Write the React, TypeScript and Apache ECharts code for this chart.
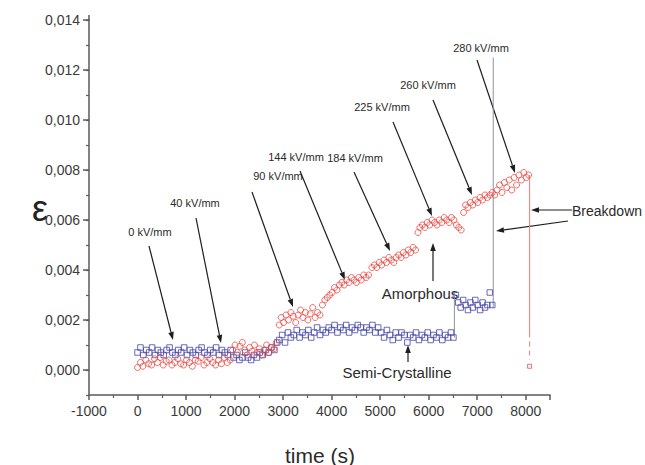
import React, { useEffect, useRef } from 'react';
import * as echarts from 'echarts';

// Amorphous sample (red circles): [time (s), strain]
const amorphous: [number, number][] = [
  [0, 0.0001], [60, 0.0003], [110, 0.00015], [170, 0.0004], [230, 0.00025], [290, 0.0002], [350, 0.00045], [410, 0.0003],
  [470, 0.0005], [530, 0.0002], [590, 0.00035], [650, 0.0004], [710, 0.0002], [770, 0.0003], [830, 0.00045], [890, 0.00025],
  [950, 0.0002], [1010, 0.0004], [1070, 0.0003], [1130, 0.00015], [1190, 0.0004], [1250, 0.00035], [1310, 0.0005], [1370, 0.0002],
  [1430, 0.0003], [1490, 0.00045], [1550, 0.0003], [1610, 0.0002], [1670, 0.0004], [1730, 0.00025], [1790, 0.0005], [1850, 0.0003],
  [1910, 0.0004],
  [1960, 0.0008], [2010, 0.001], [2060, 0.0007], [2110, 0.00095], [2160, 0.0011], [2210, 0.0008], [2260, 0.0006], [2310, 0.0009],
  [2360, 0.00075], [2410, 0.001], [2460, 0.0007], [2510, 0.00085], [2560, 0.0006], [2610, 0.0008], [2660, 0.001], [2710, 0.0007],
  [2760, 0.0009], [2810, 0.00085], [2860, 0.0011],
  [2920, 0.0018], [2960, 0.0021], [3010, 0.0019], [3060, 0.0022], [3110, 0.002], [3160, 0.0023], [3210, 0.00215], [3260, 0.0019],
  [3310, 0.0022], [3360, 0.0024], [3410, 0.0021], [3460, 0.0023], [3510, 0.002], [3560, 0.00225], [3610, 0.0025], [3660, 0.0021],
  [3710, 0.0023], [3760, 0.0022],
  [3810, 0.0026], [3860, 0.0028], [3910, 0.0029], [3960, 0.003], [4010, 0.0031], [4060, 0.0033], [4110, 0.0032], [4160, 0.0034],
  [4210, 0.0035], [4260, 0.0034], [4310, 0.0036], [4360, 0.0035], [4410, 0.0037], [4460, 0.0036], [4510, 0.0035], [4560, 0.0037],
  [4610, 0.0036], [4660, 0.0038], [4710, 0.0037], [4760, 0.0038],
  [4830, 0.0041], [4880, 0.0042], [4930, 0.0041], [4980, 0.0043], [5030, 0.0042], [5080, 0.0044], [5130, 0.0043], [5180, 0.0045],
  [5230, 0.0044], [5280, 0.0043], [5330, 0.0045], [5380, 0.0046], [5430, 0.0045], [5480, 0.0047], [5530, 0.0046], [5580, 0.0048],
  [5630, 0.0047], [5680, 0.0049], [5730, 0.0048],
  [5780, 0.0055], [5820, 0.0057], [5870, 0.0058], [5920, 0.0057], [5970, 0.0059], [6020, 0.0058], [6070, 0.006], [6120, 0.0059],
  [6170, 0.0058], [6220, 0.006], [6270, 0.0059], [6320, 0.0061], [6370, 0.006], [6420, 0.0059], [6470, 0.0061], [6520, 0.006],
  [6570, 0.0058], [6620, 0.0057], [6670, 0.0056],
  [6720, 0.0063], [6760, 0.0066], [6810, 0.0065], [6860, 0.0067], [6910, 0.0066], [6960, 0.0068], [7010, 0.0067], [7060, 0.0069],
  [7110, 0.0068], [7160, 0.007], [7210, 0.0069], [7260, 0.007], [7310, 0.0071], [7360, 0.007],
  [7410, 0.0072], [7460, 0.0074], [7510, 0.0071], [7560, 0.0075], [7610, 0.0073], [7660, 0.0076], [7710, 0.0072], [7760, 0.0077],
  [7810, 0.0074], [7860, 0.0078], [7910, 0.0076], [7960, 0.0079], [8010, 0.0077], [8060, 0.0078],
];

// Semi-crystalline sample (blue squares): [time (s), strain]
const semiCrystalline: [number, number][] = [
  [0, 0.0007], [60, 0.0009], [120, 0.0006], [180, 0.0008], [240, 0.0007], [300, 0.0009], [360, 0.0006], [420, 0.0008],
  [480, 0.0007], [540, 0.0006], [600, 0.0008], [660, 0.0009], [720, 0.0007], [780, 0.0006], [840, 0.0008], [900, 0.0007],
  [960, 0.0009], [1020, 0.0006], [1080, 0.0008], [1140, 0.0007], [1200, 0.0006], [1260, 0.0008], [1320, 0.0009], [1380, 0.0007],
  [1440, 0.0006], [1500, 0.0008], [1560, 0.0007], [1620, 0.0009], [1680, 0.0006], [1740, 0.0008], [1800, 0.0007], [1860, 0.0006],
  [1920, 0.0008],
  [1980, 0.0005], [2040, 0.0006], [2100, 0.0004], [2160, 0.0005], [2220, 0.0007], [2280, 0.0005], [2340, 0.0004], [2400, 0.0006],
  [2460, 0.0005], [2520, 0.0007], [2580, 0.0006], [2640, 0.0008], [2700, 0.0007], [2760, 0.0009], [2820, 0.0008], [2880, 0.0011],
  [2920, 0.0012], [2980, 0.0014], [3040, 0.0011], [3100, 0.0015], [3160, 0.0013], [3220, 0.0014], [3280, 0.0016], [3340, 0.0013],
  [3400, 0.0015], [3460, 0.0014], [3520, 0.0016], [3580, 0.0013], [3640, 0.0015], [3700, 0.0017], [3760, 0.0014], [3820, 0.0016],
  [3880, 0.0015], [3940, 0.0017],
  [4000, 0.0016], [4060, 0.0018], [4120, 0.0015], [4180, 0.0017], [4240, 0.0016], [4300, 0.0018], [4360, 0.0015], [4420, 0.0017],
  [4480, 0.0016], [4540, 0.0018], [4600, 0.0017], [4660, 0.0015], [4720, 0.0017], [4780, 0.0016], [4840, 0.0018], [4900, 0.0015],
  [4960, 0.0017],
  [5020, 0.0015], [5080, 0.0013], [5140, 0.0016], [5200, 0.0014], [5260, 0.0012], [5320, 0.0015], [5380, 0.0013], [5440, 0.0015],
  [5500, 0.0014], [5560, 0.0011], [5620, 0.0014], [5680, 0.0013], [5740, 0.0015], [5800, 0.0012], [5860, 0.0014], [5920, 0.0013],
  [5980, 0.0015], [6040, 0.0012], [6100, 0.0014], [6160, 0.0013], [6220, 0.0015], [6280, 0.0012], [6340, 0.0014], [6400, 0.0013],
  [6460, 0.0015], [6510, 0.0013],
  [6560, 0.003], [6610, 0.0027], [6660, 0.0025], [6710, 0.0028], [6760, 0.0026], [6810, 0.0024], [6860, 0.0027], [6910, 0.0025],
  [6960, 0.0028], [7010, 0.0026], [7060, 0.0024], [7110, 0.0027], [7160, 0.0025], [7210, 0.0026], [7260, 0.0031], [7310, 0.0026],
];

const semiJump: [number, number][] = [[6530, 0.0013], [6530, 0.0031]];
const semiBreakdown: [number, number][] = [[7330, 0.0025], [7330, 0.0125]];
const amorphousBreakdownSolid: [number, number][] = [[8080, 0.0078], [8080, 0.0015]];
const amorphousBreakdownDashed: [number, number][] = [[8080, 0.0015], [8080, 0.0004]];
const amorphousLast: [number, number][] = [[8080, 0.00015]];

const fieldLabels = ['0 kV/mm', '40 kV/mm', '90 kV/mm', '144 kV/mm', '184 kV/mm', '225 kV/mm', '260 kV/mm', '280 kV/mm'];

const RED = '#ec4a42';
const BLUE = '#4646a8';
const FONT = '"Liberation Sans", Arial, Helvetica, sans-serif';

function arrow(x1: number, y1: number, x2: number, y2: number) {
  const dx = x2 - x1, dy = y2 - y1;
  const L = Math.hypot(dx, dy);
  const ux = dx / L, uy = dy / L;
  const hl = 8, hw = 2.8;
  const bx = x2 - ux * hl, by = y2 - uy * hl;
  return [
    { type: 'line', silent: true, shape: { x1, y1, x2: bx, y2: by }, style: { stroke: '#1e1e1e', lineWidth: 1.2 } },
    {
      type: 'polygon', silent: true,
      shape: { points: [[x2, y2], [bx - uy * hw, by + ux * hw], [bx + uy * hw, by - ux * hw]] },
      style: { fill: '#1e1e1e' },
    },
  ];
}

function label(text: string, x: number, y: number, size: number, align = 'center') {
  return {
    type: 'text', silent: true, x, y,
    style: { text, fontSize: size, fontFamily: FONT, fill: '#2a2a2a', align, verticalAlign: 'middle' },
  };
}

export default function App() {
  const ref = useRef<HTMLDivElement>(null);
  useEffect(() => {
    if (!ref.current) return;
    const chart = echarts.init(ref.current, undefined, { renderer: 'svg' });

    const labelPos: [number, number][] = [
      [150, 232], [195, 203], [278, 176], [296, 157], [355, 158], [382, 107], [428, 85], [481, 48],
    ];
    const arrowPos: [number, number, number, number][] = [
      [149, 246, 173, 340], [196, 218, 221, 343], [252, 192, 293, 307], [300, 171, 345, 280],
      [354, 172, 390, 251], [393, 122, 432, 216], [433, 100, 472, 195], [477, 60, 515, 173],
    ];

    const graphics: any[] = [];
    fieldLabels.forEach((t, i) => {
      graphics.push(label(t, labelPos[i][0], labelPos[i][1], 11));
      graphics.push(...arrow(...arrowPos[i]));
    });
    graphics.push(label('Breakdown', 572, 211, 14, 'left'));
    graphics.push(...arrow(572, 210, 531, 210));
    graphics.push(...arrow(568, 221, 496, 231));
    graphics.push(label('Amorphous', 420, 293, 15));
    graphics.push(...arrow(433, 281, 433, 243));
    graphics.push(label('Semi-Crystalline', 397, 372, 15));
    graphics.push(...arrow(408, 362, 408, 345));
    graphics.push({
      type: 'text', silent: true, x: 40, y: 208,
      style: { text: 'ε', fontSize: 36, fontFamily: FONT, fill: '#222', align: 'center', verticalAlign: 'middle' },
    });
    graphics.push({
      type: 'text', silent: true, x: 320, y: 455,
      style: { text: 'time (s)', fontSize: 21, fontFamily: FONT, fill: '#2a2a2a', align: 'center', verticalAlign: 'middle' },
    });
    // small extension of the y axis line above the top tick, as in the original
    graphics.push({
      type: 'line', silent: true, shape: { x1: 89, y1: 15, x2: 89, y2: 20 },
      style: { stroke: '#5a5a5a', lineWidth: 1.5 },
    });

    const axisLineStyle = { color: '#5a5a5a', width: 1.5 };

    chart.setOption({
      animation: false,
      backgroundColor: '#ffffff',
      grid: [
        { left: 89, top: 20, width: 461, height: 375 },
        { left: 89, top: 20, width: 461, height: 350 },
      ],
      xAxis: [
        {
          type: 'value', gridIndex: 0, min: -1000, max: 8500, interval: 1000, position: 'bottom',
          axisLine: { show: true, onZero: false, lineStyle: axisLineStyle },
          axisTick: { show: true, length: 5, lineStyle: axisLineStyle },
          minorTick: { show: true, splitNumber: 2, length: 3, lineStyle: { color: '#5a5a5a', width: 1.2 } },
          splitLine: { show: false },
          axisLabel: {
            fontSize: 14, fontFamily: FONT, color: '#3a3a3a', margin: 9,
            formatter: (v: number) => (v % 1000 === 0 ? String(v) : ''),
          },
        },
        { type: 'value', gridIndex: 1, min: -1000, max: 8500, show: false, axisLine: { onZero: false } },
      ],
      yAxis: [
        {
          type: 'value', gridIndex: 0, min: -0.001, max: 0.014, interval: 0.001, position: 'left',
          axisLine: { show: true, onZero: false, lineStyle: axisLineStyle },
          axisTick: { show: true, length: 3, lineStyle: { color: '#5a5a5a', width: 1.2 } },
          axisLabel: { show: false },
          splitLine: { show: false },
        },
        {
          type: 'value', gridIndex: 1, min: 0, max: 0.014, interval: 0.002, position: 'left',
          axisLine: { show: false, onZero: false },
          axisTick: { show: true, length: 6, lineStyle: axisLineStyle },
          splitLine: { show: false },
          axisLabel: {
            fontSize: 14, fontFamily: FONT, color: '#3a3a3a', margin: 9,
            formatter: (v: number) => v.toFixed(3).replace('.', ','),
          },
        },
      ],
      series: [
        {
          type: 'line', data: semiJump, symbol: 'none', xAxisIndex: 0, yAxisIndex: 0,
          lineStyle: { color: '#8f8fa8', width: 1 }, z: 1,
        },
        {
          type: 'line', data: semiBreakdown, symbol: 'none', xAxisIndex: 0, yAxisIndex: 0,
          lineStyle: { color: '#8f8fa8', width: 1 }, z: 1,
        },
        {
          type: 'line', data: amorphousBreakdownSolid, symbol: 'none',
          lineStyle: { color: '#f07a74', width: 1 }, z: 1,
        },
        {
          type: 'line', data: amorphousBreakdownDashed, symbol: 'none',
          lineStyle: { color: '#f07a74', width: 1, type: [5, 4] }, z: 1,
        },
        {
          name: 'Semi-Crystalline', type: 'scatter', data: semiCrystalline,
          symbol: 'rect', symbolSize: 5.5,
          itemStyle: { color: 'rgba(0,0,0,0)', borderColor: BLUE, borderWidth: 1 }, z: 2,
        },
        {
          name: 'Amorphous', type: 'scatter', data: amorphous,
          symbol: 'circle', symbolSize: 6,
          itemStyle: { color: 'rgba(0,0,0,0)', borderColor: RED, borderWidth: 1 }, z: 3,
        },
        {
          type: 'scatter', data: amorphousLast, symbol: 'rect', symbolSize: 4,
          itemStyle: { color: 'rgba(0,0,0,0)', borderColor: RED, borderWidth: 1 }, z: 3,
        },
      ],
      graphic: graphics,
    });
    return () => chart.dispose();
  }, []);
  return <div ref={ref} style={{ position: 'fixed', left: 0, top: 0, width: 645, height: 465 }} />;
}
